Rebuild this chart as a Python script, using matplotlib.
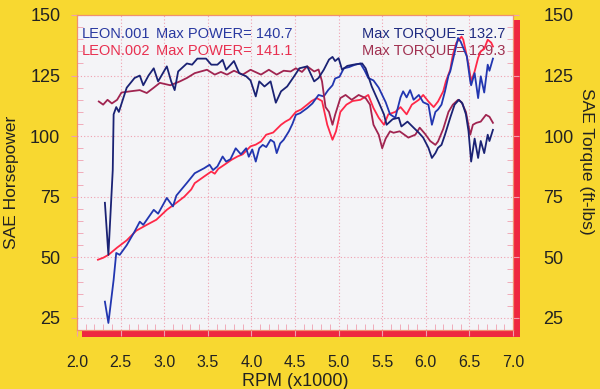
import matplotlib.pyplot as plt
from matplotlib.patches import Rectangle
from matplotlib.ticker import MultipleLocator

plt.rcParams['font.family'] = ['Liberation Sans', 'DejaVu Sans']

# LEON.001 horsepower
hp1_rpm = [2.32, 2.36, 2.42, 2.45, 2.49, 2.57, 2.66, 2.72, 2.76, 2.88, 2.93, 3.03, 3.10, 3.14,
           3.26, 3.35, 3.46, 3.52, 3.56, 3.61, 3.67, 3.71, 3.76, 3.82, 3.88, 3.94, 3.97, 4.01,
           4.05, 4.09, 4.13, 4.17, 4.22, 4.26, 4.29, 4.33, 4.37, 4.43, 4.47, 4.51, 4.56, 4.64,
           4.70, 4.77, 4.83, 4.88, 4.93, 4.96, 5.01, 5.06, 5.12, 5.19, 5.25, 5.30, 5.34, 5.40,
           5.46, 5.54, 5.59, 5.65, 5.71, 5.74, 5.78, 5.82, 5.86, 5.92, 5.97, 6.03, 6.07, 6.11,
           6.14, 6.18, 6.22, 6.26, 6.28, 6.33, 6.37, 6.40, 6.43, 6.47, 6.51, 6.52, 6.56, 6.60,
           6.63, 6.67, 6.71, 6.73, 6.77]
hp1 = [31.7, 22.9, 40.7, 51.8, 51.0, 55.0, 60.6, 64.7, 63.4, 69.6, 68.0, 74.5, 71.0, 75.5,
       80.7, 84.7, 86.8, 88.2, 86.0, 87.5, 91.6, 89.5, 90.5, 95.0, 92.5, 95.0, 91.5, 94.5,
       89.5, 95.0, 96.4, 95.5, 98.5, 97.5, 93.0, 97.0, 98.5, 102.0, 105.0, 108.8, 109.5, 111.6,
       113.5, 117.0, 116.4, 119.0, 121.0, 123.8, 124.5, 128.0, 128.5, 129.5, 130.0, 127.0, 124.0, 123.0,
       120.0, 114.0, 109.0, 107.6, 116.0, 118.5, 116.0, 119.0, 115.0, 117.0, 114.0, 113.0, 104.7, 110.0,
       111.0, 113.0, 118.5, 125.0, 126.7, 134.4, 140.5, 139.0, 136.4, 133.0, 122.6, 121.0, 126.0, 115.7,
       124.7, 118.0, 129.5, 127.0, 132.0]

# LEON.002 horsepower
hp2_rpm = [2.24, 2.30, 2.36, 2.46, 2.57, 2.68, 2.80, 2.91, 3.03, 3.14, 3.23, 3.31, 3.35, 3.46,
           3.54, 3.58, 3.62, 3.69, 3.77, 3.84, 3.90, 3.99, 4.05, 4.11, 4.17, 4.25, 4.34, 4.39,
           4.44, 4.51, 4.57, 4.64, 4.69, 4.75, 4.81, 4.87, 4.93, 4.97, 5.02, 5.09, 5.16, 5.25,
           5.34, 5.40, 5.46, 5.52, 5.57, 5.65, 5.71, 5.78, 5.84, 5.92, 5.97, 6.03, 6.09, 6.14,
           6.20, 6.23, 6.28, 6.31, 6.35, 6.41, 6.43, 6.45, 6.49, 6.52, 6.56, 6.60, 6.63, 6.67,
           6.71, 6.75, 6.77]
hp2 = [49.0, 49.8, 51.0, 54.0, 57.0, 61.0, 63.4, 65.5, 69.6, 72.5, 75.0, 78.0, 80.6, 83.4,
       85.4, 84.5, 86.5, 88.2, 90.2, 91.6, 92.5, 95.8, 96.5, 97.8, 100.6, 101.5, 104.7, 106.0,
       107.0, 110.0, 111.0, 113.0, 114.5, 115.7, 114.5, 104.7, 98.5, 102.0, 110.0, 113.0, 114.5, 115.0,
       117.0, 111.6, 107.6, 104.7, 109.0, 110.0, 112.0, 109.0, 113.0, 115.0, 117.0, 114.3, 112.0, 114.3,
       118.5, 122.6, 127.4, 133.6, 138.5, 141.1, 139.8, 136.5, 129.5, 122.6, 126.7, 132.3, 135.0, 136.0,
       139.8, 138.6, 137.0]

# LEON.001 torque
tq1_rpm = [2.32, 2.36, 2.41, 2.42, 2.45, 2.48, 2.57, 2.66, 2.72, 2.76, 2.82, 2.88, 2.93, 3.03,
           3.08, 3.12, 3.16, 3.26, 3.32, 3.38, 3.48, 3.54, 3.61, 3.67, 3.71, 3.80, 3.86, 3.94,
           3.99, 4.05, 4.09, 4.15, 4.22, 4.28, 4.34, 4.41, 4.49, 4.55, 4.64, 4.72, 4.77, 4.83,
           4.89, 4.93, 4.96, 5.00, 5.04, 5.10, 5.17, 5.27, 5.31, 5.38, 5.46, 5.52, 5.55, 5.62,
           5.69, 5.72, 5.79, 5.86, 5.92, 5.97, 6.03, 6.07, 6.11, 6.14, 6.18, 6.22, 6.28, 6.33,
           6.38, 6.42, 6.46, 6.49, 6.52, 6.56, 6.60, 6.63, 6.67, 6.71, 6.73, 6.77]
tq1 = [72.5, 51.0, 86.0, 109.0, 112.0, 110.0, 120.0, 124.0, 125.0, 121.0, 125.0, 128.0, 122.6, 128.8,
       122.6, 119.0, 126.7, 130.0, 129.5, 132.0, 132.0, 129.5, 129.5, 131.5, 127.4, 131.0, 126.0, 124.7,
       123.0, 116.4, 122.6, 120.5, 122.6, 113.8, 118.5, 120.5, 124.7, 128.0, 128.8, 122.6, 124.0, 127.4,
       131.6, 132.7, 131.0, 132.2, 127.4, 129.0, 129.5, 130.0, 128.0, 120.5, 114.0, 109.0, 104.7, 107.0,
       107.6, 104.0, 106.0, 103.5, 101.4, 99.4, 95.2, 91.0, 93.0, 95.2, 96.4, 100.6, 107.6, 113.0,
       115.0, 113.5, 109.0, 102.0, 89.5, 99.0, 91.0, 98.0, 93.0, 100.6, 98.0, 102.6]

# LEON.002 torque
tq2_rpm = [2.25, 2.30, 2.35, 2.40, 2.46, 2.51, 2.61, 2.72, 2.80, 2.88, 2.95, 3.07, 3.18, 3.26,
           3.35, 3.49, 3.58, 3.65, 3.72, 3.80, 3.90, 3.99, 4.11, 4.20, 4.29, 4.37, 4.45, 4.51,
           4.58, 4.64, 4.72, 4.77, 4.81, 4.85, 4.89, 4.93, 4.96, 5.02, 5.08, 5.15, 5.23, 5.31,
           5.36, 5.40, 5.46, 5.50, 5.54, 5.59, 5.63, 5.70, 5.80, 5.88, 5.93, 5.99, 6.05, 6.11,
           6.14, 6.20, 6.26, 6.31, 6.37, 6.41, 6.46, 6.51, 6.54, 6.58, 6.63, 6.69, 6.73, 6.77]
tq2 = [114.3, 113.0, 115.0, 113.5, 115.0, 118.0, 118.5, 119.0, 117.8, 120.0, 122.0, 121.0, 122.6, 124.0,
       126.0, 127.4, 125.4, 126.5, 125.4, 127.0, 125.4, 127.4, 125.4, 127.4, 125.4, 127.0, 126.7, 128.0,
       126.5, 128.8, 126.7, 127.5, 122.6, 112.0, 110.0, 104.7, 108.8, 115.7, 117.0, 115.0, 117.0, 115.7,
       113.0, 104.7, 100.6, 95.0, 99.0, 102.0, 101.4, 102.0, 99.4, 100.6, 103.5, 101.0, 98.0, 96.4,
       97.8, 103.0, 110.0, 113.0, 115.0, 114.0, 110.0, 100.6, 104.7, 105.5, 106.0, 108.8, 108.0, 105.5]

x_ticks = [2.0, 2.5, 3.0, 3.5, 4.0, 4.5, 5.0, 5.5, 6.0, 6.5, 7.0]
y_ticks = [25, 50, 75, 100, 125, 150]

yellow = '#f8d830'
pink = '#f0a0b0'
c_hp1 = '#2236b0'
c_hp2 = '#ff2848'
c_tq1 = '#1a2274'
c_tq2 = '#a02450'

fig = plt.figure(figsize=(6, 3.89), dpi=100, facecolor=yellow)

# red drop shadow behind the plot area
fig.patches.append(Rectangle((82 / 600, 52 / 389), 438 / 600, 317 / 389,
                             transform=fig.transFigure, facecolor='#ee2840',
                             edgecolor='none', zorder=-5))

ax = fig.add_axes([77 / 600, 59 / 389, 436 / 600, 315 / 389])
ax.set_zorder(1)
ax.set_facecolor('#f4f4f7')
ax2 = ax.twinx()
ax2.set_zorder(2)

for a in (ax, ax2):
    a.set_xlim(2.0, 7.0)
    a.set_ylim(20, 150)
    a.set_yticks(y_ticks)
    a.yaxis.set_minor_locator(MultipleLocator(5))
    for s in a.spines.values():
        s.set_color('#f09070')
        s.set_linewidth(0.8)

ax.set_xticks(x_ticks)
ax.set_xticklabels(['%.1f' % v for v in x_ticks])
ax.xaxis.set_minor_locator(MultipleLocator(0.1))
ax.grid(True, which='major', color=pink, linestyle=(0, (1, 2)), linewidth=0.8)

ax.tick_params(axis='x', which='major', direction='out', length=4, color=pink,
               pad=14, labelsize=11.5, labelcolor='#222222')
ax.tick_params(axis='y', which='major', direction='out', length=4, color=pink,
               pad=8, labelsize=13, labelcolor='#222222')
ax.tick_params(which='minor', direction='in', length=4, color=pink, width=0.6)
ax2.tick_params(axis='y', which='major', direction='out', length=4, color=pink,
                pad=18, labelsize=13, labelcolor='#222222')
ax2.tick_params(axis='y', which='minor', direction='in', length=4, color=pink, width=0.6)

ax.plot(hp2_rpm, hp2, color=c_hp2, linewidth=1.3, zorder=3)
ax.plot(hp1_rpm, hp1, color=c_hp1, linewidth=1.3, zorder=3)
ax2.plot(tq2_rpm, tq2, color=c_tq2, linewidth=1.3, zorder=3)
ax2.plot(tq1_rpm, tq1, color=c_tq1, linewidth=1.3, zorder=3)

ax.text(2.06, 142.2, 'LEON.001', color='#2838a0', fontsize=10.5, va='center', zorder=1)
ax.text(2.91, 142.2, 'Max POWER= 140.7', color='#2838a0', fontsize=10.5, va='center', zorder=1)
ax.text(2.06, 135.2, 'LEON.002', color='#e83050', fontsize=10.5, va='center', zorder=1)
ax.text(2.91, 135.2, 'Max POWER= 141.1', color='#e83050', fontsize=10.5, va='center', zorder=1)
ax.text(5.27, 142.2, 'Max TORQUE= 132.7', color='#1e2a80', fontsize=10.5, va='center', zorder=1)
ax.text(5.27, 135.2, 'Max TORQUE= 129.3', color='#a03050', fontsize=10.5, va='center', zorder=1)

fig.text(0.02, 0.53, 'SAE Horsepower', rotation=90, ha='center', va='center',
         fontsize=12.5, color='#222222')
fig.text(0.978, 0.586, 'SAE Torque (ft-lbs)', rotation=270, ha='center', va='center',
         fontsize=12.5, color='#222222')
fig.text(295 / 600, 3 / 389, 'RPM (x1000)', ha='center', va='baseline',
         fontsize=13, color='#222222')

fig.savefig('out.png', dpi=100, facecolor=yellow)
